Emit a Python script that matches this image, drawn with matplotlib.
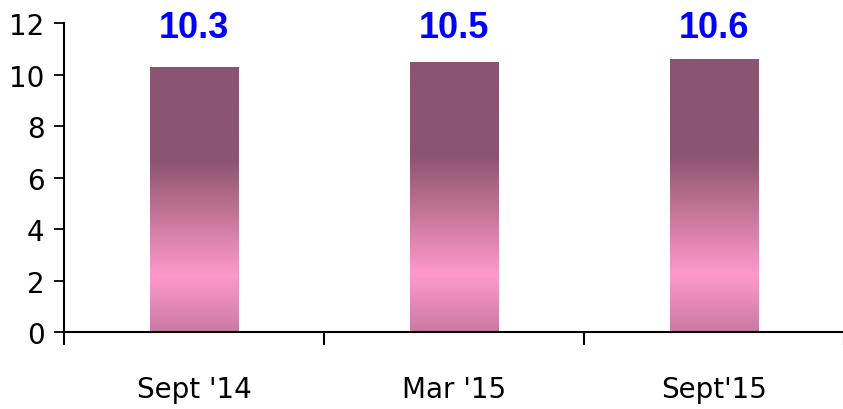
import numpy as np
import matplotlib.pyplot as plt
from matplotlib.colors import LinearSegmentedColormap

# chart data
categories = ["Sept '14", "Mar '15", "Sept'15"]
values = [10.3, 10.5, 10.6]
value_labels = ["10.3", "10.5", "10.6"]
y_ticks = [0, 2, 4, 6, 8, 10, 12]

# vertical gradient used inside each bar (bottom -> top)
grad = LinearSegmentedColormap.from_list(
    "bar_grad",
    [(0.0, "#c97aa4"), (0.21, "#ff99cc"), (0.45, "#c27496"),
     (0.65, "#8b5470"), (1.0, "#8b5470")])

fig = plt.figure(figsize=(8.43, 4.10), dpi=100)
ax = fig.add_axes([64 / 843, 77 / 410, 780 / 843, 308.7 / 410])

x = np.arange(len(categories))
bars = ax.bar(x, values, width=0.34, color="none", edgecolor="none", zorder=2)

g = np.linspace(0, 1, 256).reshape(-1, 1)
for b in bars:
    x0, y0 = b.get_x(), b.get_y()
    w, h = b.get_width(), b.get_height()
    im = ax.imshow(g, cmap=grad, origin="lower", aspect="auto",
                   extent=(x0, x0 + w, y0, y0 + h), zorder=1)
    im.set_clip_path(b)

for xi, lab in zip(x, value_labels):
    ax.text(xi, 11.45, lab, ha="center", va="baseline", color="#0000ff",
            fontsize=26, fontweight="bold", family="Liberation Sans")

ax.set_xlim(-0.5, len(categories) - 0.5)
ax.set_ylim(0, 12)
ax.set_yticks(y_ticks)
ax.set_yticklabels([str(t) for t in y_ticks])

ax.set_xticks(x)
ax.set_xticklabels(categories)
ax.set_xticks(np.arange(-0.5, len(categories), 1.0), minor=True)
ax.tick_params(axis="x", which="major", length=0, pad=31, labelsize=20)
ax.tick_params(axis="x", which="minor", length=9, width=1.5, direction="out",
               color="#000000")
ax.tick_params(axis="y", length=7, width=1.3, direction="out", pad=7,
               labelsize=20)

for s in ["top", "right"]:
    ax.spines[s].set_visible(False)
for s in ["left", "bottom"]:
    ax.spines[s].set_linewidth(1.5)
    ax.spines[s].set_color("#000000")

fig.savefig("out.png", dpi=100)
